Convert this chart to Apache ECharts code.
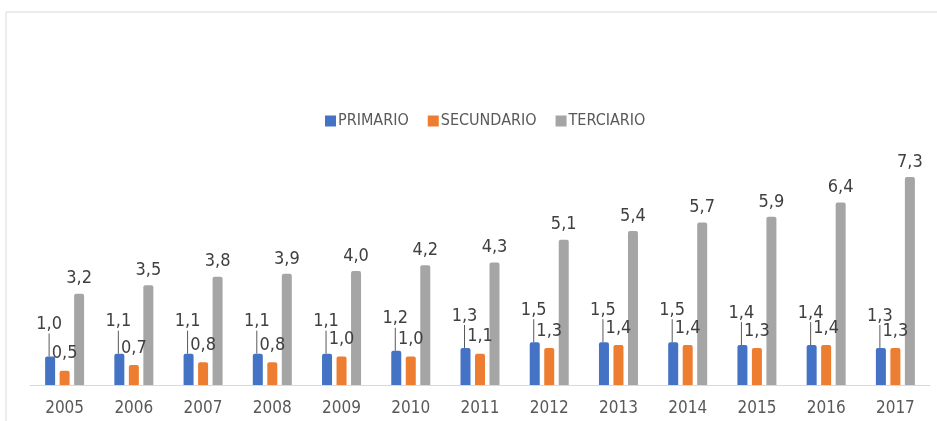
<!DOCTYPE html>
<html>
<head>
<meta charset="utf-8">
<script src="https://cdn.jsdelivr.net/npm/echarts@6/dist/echarts.min.js"></script>
<style>html,body{margin:0;padding:0;background:#fff}#c{width:937px;height:421px}</style>
</head>
<body>
<div id="c"></div>
<script>
var categories = ['2005','2006','2007','2008','2009','2010','2011','2012','2013','2014','2015','2016','2017'];
var primario = [1.0,1.1,1.1,1.1,1.1,1.2,1.3,1.5,1.5,1.5,1.4,1.4,1.3];
var secundario = [0.5,0.7,0.8,0.8,1.0,1.0,1.1,1.3,1.4,1.4,1.3,1.4,1.3];
var terciario = [3.2,3.5,3.8,3.9,4.0,4.2,4.3,5.1,5.4,5.7,5.9,6.4,7.3];
var seriesNames = ['PRIMARIO','SECUNDARIO','TERCIARIO'];

var FONT = '"Liberation Sans Narrow","DejaVu Sans Condensed",sans-serif';
function fmt(p){ return p.value.toFixed(1).replace('.', ','); }
var labelBase = {show:true, position:'top', formatter:fmt, color:'#404040', fontSize:18, fontFamily:FONT};

var chart = echarts.init(document.getElementById('c'));
chart.setOption({
  animation:false,
  graphic:[{type:'rect', shape:{x:6,y:12,width:940,height:420}, style:{fill:'none', stroke:'#d9d9d9', lineWidth:1}, silent:true}],
  legend:{
    data:seriesNames, left:320, top:108, itemWidth:11, itemHeight:11, itemGap:19,
    icon:'rect',
    textStyle:{color:'#595959', fontSize:16, fontFamily:FONT, padding:[0,0,0,-3]}
  },
  grid:{left:30, right:7, top:157, bottom:36},
  xAxis:{
    type:'category', data:categories,
    axisLine:{lineStyle:{color:'#d9d9d9'}}, axisTick:{show:false},
    axisLabel:{color:'#595959', fontSize:17, fontFamily:FONT, margin:15}
  },
  yAxis:{type:'value', min:0, max:8, show:false, splitLine:{show:false}},
  series:[
    {name:seriesNames[0], type:'bar', data:primario, barWidth:10, barGap:'45%',
     itemStyle:{color:'#4472C4', borderRadius:[2,2,0,0]},
     label:Object.assign({}, labelBase, {distance:3}),
     labelLayout:{dy:-20, dx:-1},
     labelLine:{show:true, lineStyle:{color:'#595959', width:1}}},
    {name:seriesNames[1], type:'bar', data:secundario, barWidth:10, barGap:'45%',
     itemStyle:{color:'#ED7D31', borderRadius:[2,2,0,0]},
     label:Object.assign({}, labelBase, {distance:8})},
    {name:seriesNames[2], type:'bar', data:terciario, barWidth:10, barGap:'45%',
     itemStyle:{color:'#A5A5A5', borderRadius:[2,2,0,0]},
     label:Object.assign({}, labelBase, {distance:6})}
  ]
});
</script>
</body>
</html>
